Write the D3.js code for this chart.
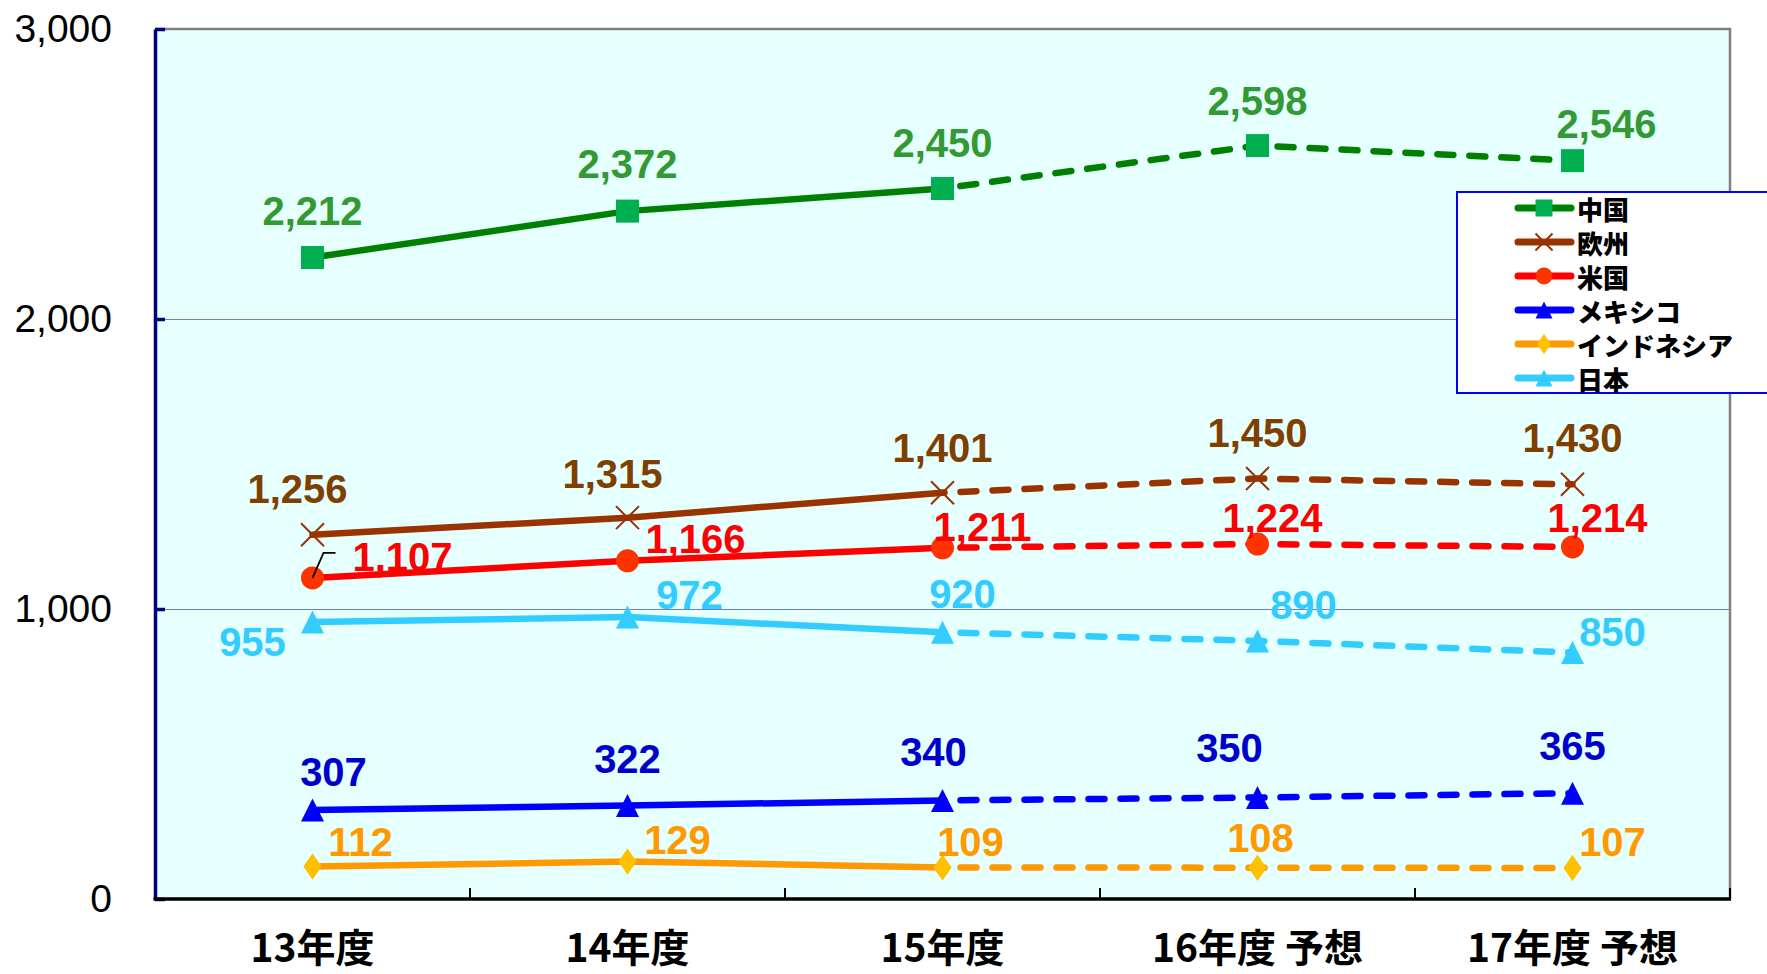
<!DOCTYPE html>
<html>
<head>
<meta charset="utf-8">
<script src="https://cdn.jsdelivr.net/npm/d3@7"></script>
<style>
  html, body { margin: 0; padding: 0; background: #fff; }
  svg { display: block; }
</style>
</head>
<body>
<svg id="chart" width="1767" height="974"></svg>
<script>
// categories and values
var categories = ["13年度", "14年度", "15年度", "16年度 予想", "17年度 予想"];
var yTicks = [0, 1000, 2000, 3000];

var china     = [2212, 2372, 2450, 2598, 2546];
var europe    = [1256, 1315, 1401, 1450, 1430];
var usa       = [1107, 1166, 1211, 1224, 1214];
var mexico    = [307, 322, 340, 350, 365];
var indonesia = [112, 129, 109, 108, 107];
var japan     = [955, 972, 920, 890, 850];

// from this index on the line is a forecast (dashed)
var forecastFrom = 2;

var series = [
  { name: "中国",       values: china,     line: "#008000", mark: "#00b050", text: "#339933", shape: "square" },
  { name: "欧州",       values: europe,    line: "#993300", mark: "#993300", text: "#7f3f00", shape: "cross" },
  { name: "米国",       values: usa,       line: "#ff0000", mark: "#ff3300", text: "#ff0000", shape: "circle" },
  { name: "メキシコ",   values: mexico,    line: "#0000ff", mark: "#0000ff", text: "#0000cc", shape: "triangle" },
  { name: "インドネシア", values: indonesia, line: "#ff9900", mark: "#ffc000", text: "#ff9900", shape: "diamond" },
  { name: "日本",       values: japan,     line: "#33ccff", mark: "#33ccff", text: "#33ccff", shape: "triangle" }
];

// label nudges (px) so the value labels sit where they are in the picture
var labelShift = [
  [[0, -47], [0, -47], [0, -46], [0, -45], [34, -37]],
  [[-15, -46], [-15, -44], [0, -45], [0, -46], [0, -46]],
  [[90, -21], [68, -22], [40, -21], [15, -26], [25, -29]],
  [[21, -38], [0, -47], [-9, -48], [-28, -50], [0, -47]],
  [[48, -25], [50, -22], [28, -25], [3, -30], [40, -26]],
  [[-60, 20], [62, -22], [20, -38], [46, -36], [40, -21]]
];

var svg = d3.select("#chart");
var plotLeft = 155, plotRight = 1730, plotTop = 29, plotBottom = 899;

var x = d3.scaleBand().domain(categories).range([plotLeft, plotRight]).padding(0);
var y = d3.scaleLinear().domain([0, 3000]).range([plotBottom, plotTop]);
var cx = function (i) { return x(categories[i]) + x.bandwidth() / 2; };

// plot background
svg.append("rect")
  .attr("x", plotLeft).attr("y", plotTop)
  .attr("width", plotRight - plotLeft).attr("height", plotBottom - plotTop)
  .attr("fill", "#e6ffff");

// grid lines
svg.append("g").selectAll("line")
  .data([1000, 2000])
  .enter().append("line")
  .attr("x1", plotLeft).attr("x2", plotRight)
  .attr("y1", function (d) { return y(d) + 0.5; })
  .attr("y2", function (d) { return y(d) + 0.5; })
  .attr("stroke", "#6f7fc8").attr("stroke-width", 1.2);

// top and right border
svg.append("path")
  .attr("d", "M" + plotLeft + "," + plotTop + "H" + plotRight + "V" + plotBottom)
  .attr("fill", "none").attr("stroke", "#808080").attr("stroke-width", 2.5);

// y axis
var yAxis = svg.append("g")
  .attr("transform", "translate(" + plotLeft + ",0)")
  .call(d3.axisLeft(y).tickValues(yTicks).tickFormat(d3.format(","))
    .tickSizeInner(-10).tickSizeOuter(0).tickPadding(43));
yAxis.select(".domain").attr("stroke", "#000080").attr("stroke-width", 3.5);
yAxis.selectAll(".tick line").attr("stroke", "#000080").attr("stroke-width", 3.5);
yAxis.selectAll(".tick text")
  .attr("font-family", "'Liberation Sans', Arial, sans-serif")
  .attr("font-size", 39).attr("fill", "#000");

// x axis: labels at band centres, ticks at band edges
var xAxis = svg.append("g")
  .attr("transform", "translate(0," + plotBottom + ")")
  .call(d3.axisBottom(x).tickSize(0));
xAxis.select(".domain").remove();
xAxis.selectAll(".tick text")
  .attr("y", 46).attr("dy", null)
  .attr("dominant-baseline", "central")
  .attr("font-family", "'Noto Sans CJK JP', sans-serif")
  .attr("font-weight", "bold").attr("font-size", 39).attr("fill", "#000");

svg.append("g").selectAll("line")
  .data(categories.slice(1).map(function (c) { return x(c); }).concat([plotRight]))
  .enter().append("line")
  .attr("x1", function (d) { return d; }).attr("x2", function (d) { return d; })
  .attr("y1", plotBottom).attr("y2", plotBottom - 11)
  .attr("stroke", "#000").attr("stroke-width", 2);

svg.append("line")
  .attr("x1", plotLeft - 1.5).attr("x2", plotRight + 1)
  .attr("y1", plotBottom).attr("y2", plotBottom)
  .attr("stroke", "#000").attr("stroke-width", 3.5);

// marker drawing
function drawMark(g, shape, color, s) {
  if (shape === "square") {
    g.append("rect").attr("x", -s / 2).attr("y", -s / 2).attr("width", s).attr("height", s).attr("fill", color);
  } else if (shape === "circle") {
    g.append("circle").attr("r", s / 2).attr("fill", color);
  } else if (shape === "triangle") {
    g.append("path").attr("d", "M0," + (-s / 2) + "L" + (s / 2) + "," + (s / 2) + "L" + (-s / 2) + "," + (s / 2) + "Z").attr("fill", color);
  } else if (shape === "diamond") {
    g.append("path").attr("d", "M0," + (-s * 0.55) + "L" + (s * 0.38) + ",0L0," + (s * 0.55) + "L" + (-s * 0.38) + ",0Z").attr("fill", color);
  } else if (shape === "cross") {
    var h = s / 2;
    g.append("path").attr("d", "M" + (-h) + "," + (-h) + "L" + h + "," + h + "M" + h + "," + (-h) + "L" + (-h) + "," + h)
      .attr("stroke", color).attr("stroke-width", 2).attr("fill", "none");
  }
}

var line = d3.line()
  .x(function (d) { return cx(d.i); })
  .y(function (d) { return y(d.v); });

series.forEach(function (s, si) {
  var pts = s.values.map(function (v, i) { return { v: v, i: i }; });
  var g = svg.append("g");

  g.append("path")
    .attr("d", line(pts.slice(0, forecastFrom + 1)))
    .attr("fill", "none").attr("stroke", s.line)
    .attr("stroke-width", 6.5).attr("stroke-linecap", "round").attr("stroke-linejoin", "round");

  g.append("path")
    .attr("d", line(pts.slice(forecastFrom)))
    .attr("fill", "none").attr("stroke", s.line)
    .attr("stroke-width", 6.5).attr("stroke-linecap", "round")
    .attr("stroke-dasharray", "16,16").attr("stroke-dashoffset", -18);

  pts.forEach(function (p) {
    var m = g.append("g").attr("transform", "translate(" + cx(p.i) + "," + y(p.v) + ")");
    drawMark(m, s.shape, s.mark, s.shape === "diamond" ? 24 : 23);
  });

  g.selectAll("text")
    .data(pts)
    .enter().append("text")
    .attr("x", function (d) { return cx(d.i) + labelShift[si][d.i][0]; })
    .attr("y", function (d) { return y(d.v) + labelShift[si][d.i][1]; })
    .attr("text-anchor", "middle")
    .attr("dominant-baseline", "central")
    .attr("font-family", "'Liberation Sans', Arial, sans-serif")
    .attr("font-weight", "bold").attr("font-size", 40)
    .attr("fill", s.text)
    .text(function (d) { return d3.format(",")(d.v); });
});

// little leader line at the first 米国 label
var lx = cx(0), ly = y(usa[0]);
svg.append("path")
  .attr("d", "M" + lx + "," + ly + "L" + (lx + 11) + "," + (ly - 25) + "H" + (lx + 23))
  .attr("fill", "none").attr("stroke", "#000").attr("stroke-width", 1.8);

// legend
var legend = svg.append("g");
legend.append("rect")
  .attr("x", 1457).attr("y", 192).attr("width", 330).attr("height", 201)
  .attr("fill", "#fff").attr("stroke", "#0000ff").attr("stroke-width", 2);

series.forEach(function (s, i) {
  var row = legend.append("g").attr("transform", "translate(0," + (208 + i * 34) + ")");
  row.append("line")
    .attr("x1", 1518).attr("x2", 1571)
    .attr("stroke", s.line).attr("stroke-width", 7).attr("stroke-linecap", "round");
  var m = row.append("g").attr("transform", "translate(1544,0)");
  drawMark(m, s.shape, s.mark, s.shape === "diamond" ? 18 : 17);
  row.append("text")
    .attr("x", 1577).attr("y", 0)
    .attr("dominant-baseline", "central")
    .attr("font-family", "'Noto Sans CJK JP', sans-serif")
    .attr("font-weight", 900).attr("font-size", 26)
    .attr("fill", "#000")
    .text(s.name);
});
</script>
</body>
</html>
